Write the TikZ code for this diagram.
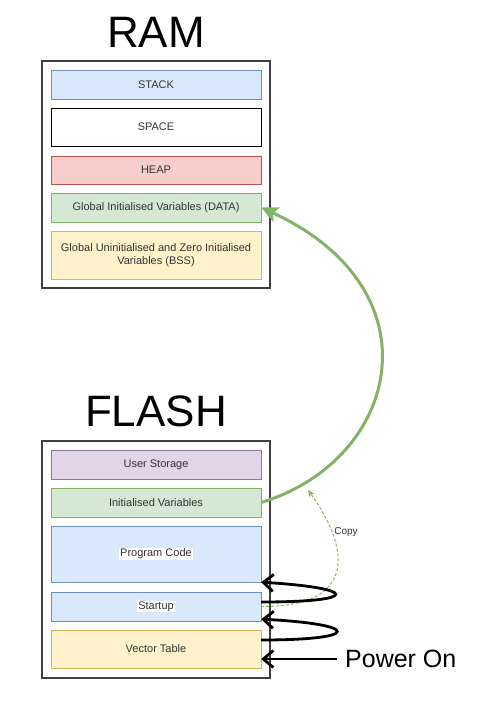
\documentclass[tikz,border=0pt]{standalone}
\usepackage{fontspec}
\setmainfont{Liberation Sans}
\usepackage{xcolor}
\usetikzlibrary{positioning, arrows.meta}

\definecolor{blueF}{HTML}{DAE8FC}\definecolor{blueD}{HTML}{6C8EBF}
\definecolor{redF}{HTML}{F8CECC}\definecolor{redD}{HTML}{B85450}
\definecolor{greenF}{HTML}{D5E8D4}\definecolor{greenD}{HTML}{82B366}
\definecolor{yelF}{HTML}{FFF2CC}\definecolor{yelD}{HTML}{D6B656}
\definecolor{purF}{HTML}{E1D5E7}\definecolor{purD}{HTML}{9673A6}
\definecolor{txt}{HTML}{333333}

\begin{document}
\begin{tikzpicture}[x=1pt, y=-1pt,
    seg/.style={draw, rectangle, minimum width=210pt, inner sep=0pt, text=txt,
                font=\fontsize{11}{13}\selectfont, align=center},
    mem/.style={draw=black!75, line width=1.2pt},
    title/.style={font=\fontsize{44}{48}\selectfont},
    jump/.style={line width=2.8pt, -{Straight Barb[length=10pt, width=17pt]}},
    copyline/.style={greenD, densely dashed, line width=1pt, -{Stealth[length=7pt, width=6pt]}},
]
\useasboundingbox (0,0) rectangle (485,701);

% RAM
\node[title] (ramT) at (156,32) {RAM};
\draw[mem] (42,61) rectangle (270,288);
\node[seg, fill=blueF, draw=blueD, minimum height=29pt] (stack) at (156,84.5) {STACK};
\node[seg, fill=white, draw=black, minimum height=38pt] (space) at (156,127) {SPACE};
\node[seg, fill=redF, draw=redD, minimum height=28pt] (heap) at (156,170) {HEAP};
\node[seg, fill=greenF, draw=greenD, minimum height=29pt] (data) at (156,207.5) {Global Initialised Variables (DATA)};
\node[seg, fill=yelF, draw=yelD, minimum height=48pt] (bss) at (156,255) {Global Uninitialised and Zero Initialised\\Variables (BSS)};

% FLASH
\node[title] (flashT) at (156,411) {FLASH};
\draw[mem] (42,441) rectangle (270,678);
\node[seg, fill=purF, draw=purD, minimum height=29pt] (us) at (156,464.5) {User Storage};
\node[seg, fill=greenF, draw=greenD, minimum height=29pt] (iv) at (156,502.5) {Initialised Variables};
\node[seg, fill=blueF, draw=blueD, minimum height=56pt] (pc) at (156,554) {};
\node[fill=white, inner sep=1pt, text=txt, font=\fontsize{11}{13}\selectfont] (pcT) at (pc) {Program Code};
\node[seg, fill=blueF, draw=blueD, minimum height=29pt] (su) at (156,606.5) {};
\node[fill=white, inner sep=1pt, text=txt, font=\fontsize{11}{13}\selectfont] (suT) at (su) {Startup};
\node[seg, fill=yelF, draw=yelD, minimum height=38pt] (vt) at (156,649) {Vector Table};

% Power on
\node[anchor=west, font=\fontsize{25}{28}\selectfont, inner sep=0pt] (pwr) at (345,659) {Power On};

% Copy of initialised variables
\draw[greenD, line width=3pt, -{Stealth[length=17pt, width=16pt, inset=4pt]}]
    (iv.east) .. controls (400,460) and (440,290) .. (data.east);
\coordinate (cp) at (308,490);
\draw[copyline] (su.east) .. controls (358,607) and (350,548) .. (cp);
\node[font=\fontsize{10}{12}\selectfont, text=txt] (copyT) at (346,532) {Copy};

% Boot sequence
\draw[jump] ([xshift=-8pt]pwr.west) -- (pwr.west -| vt.east);
\draw[jump] ([yshift=9pt]vt.east) .. controls (364,640) and (360,624) .. ([yshift=2pt]su.south east);
\draw[jump] ([yshift=4.5pt]su.east) .. controls (362,602) and (358,588) .. (pc.south east);
\end{tikzpicture}
\end{document}
